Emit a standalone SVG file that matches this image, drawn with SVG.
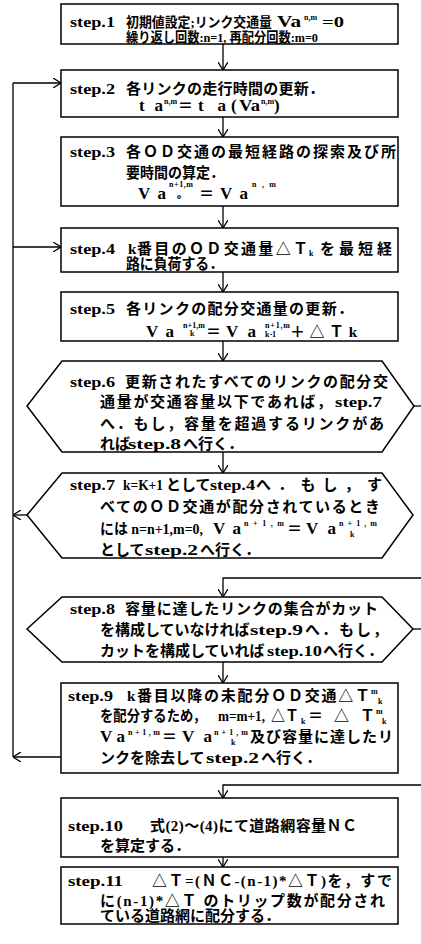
<svg xmlns="http://www.w3.org/2000/svg" width="421" height="944" viewBox="0 0 421 944">
<style>
.box{fill:#fff;stroke:#000;stroke-width:1.5}
.t{font-family:"Liberation Serif","Noto Sans CJK JP",serif;font-size:15px;font-weight:bold;fill:#000}
.sm{font-size:13.5px}
.v{font-family:"Liberation Serif",serif;font-size:17px;font-weight:bold;fill:#000}
.s{font-family:"Liberation Serif","Noto Sans CJK JP",serif;font-size:8px;font-weight:bold;fill:#000}
.c{fill:none;stroke:#000;stroke-width:1.3}
</style>
<defs>
<marker id="ah" viewBox="0 0 8 10" refX="8" refY="5" markerWidth="8" markerHeight="10" markerUnits="userSpaceOnUse" orient="auto"><path d="M0,0 L8,5 L0,10" fill="none" stroke="#000" stroke-width="1.3"/></marker>
</defs>
<rect width="421" height="944" fill="#fff"/>
<g id="connectors">
<path class="c" d="M223,44 V70" marker-end="url(#ah)"/>
<path class="c" d="M223,117 V137" marker-end="url(#ah)"/>
<path class="c" d="M223,206 V228" marker-end="url(#ah)"/>
<path class="c" d="M223,272 V292" marker-end="url(#ah)"/>
<path class="c" d="M223,341 V361" marker-end="url(#ah)"/>
<path class="c" d="M223,452 V473" marker-end="url(#ah)"/>
<path class="c" d="M421,578 H223 V597" marker-end="url(#ah)"/>
<path class="c" d="M223,662 V683" marker-end="url(#ah)"/>
<path class="c" d="M421,785 H223 V798" marker-end="url(#ah)"/>
<path class="c" d="M223,857 V867" marker-end="url(#ah)"/>
<path class="c" d="M414,406 H421"/>
<path class="c" d="M413,629 H421"/>
<path class="c" d="M13,757 V83"/>
<path class="c" d="M13,83 H61" marker-end="url(#ah)"/>
<path class="c" d="M13,247 H61" marker-end="url(#ah)"/>
<path class="c" d="M27,515 H13" marker-end="url(#ah)"/>
<path class="c" d="M61,757 H13" marker-end="url(#ah)"/>
</g>
<g id="step1">
<rect class="box" x="61" y="4" width="337" height="40"/>
<text class="t" x="70" y="27" textLength="45" lengthAdjust="spacingAndGlyphs">step.1</text>
<text class="t sm" x="126" y="27" textLength="146" lengthAdjust="spacingAndGlyphs">初期値設定;リンク交通量</text>
<text class="v" x="277" y="27" textLength="24" lengthAdjust="spacingAndGlyphs">Va</text>
<text class="s" x="304" y="20">n,m</text>
<text class="t" x="322" y="27" textLength="22" lengthAdjust="spacingAndGlyphs">=0</text>
<text class="t sm" x="126" y="42" textLength="192" lengthAdjust="spacingAndGlyphs">繰り返し回数:n=1, 再配分回数:m=0</text>
</g>
<g id="step2">
<rect class="box" x="61" y="70" width="337" height="47"/>
<text class="t" x="70" y="94" textLength="45" lengthAdjust="spacingAndGlyphs">step.2</text>
<text class="t" x="126" y="94" textLength="198" lengthAdjust="spacing">各リンクの走行時間の更新．</text>
<text class="v" x="139" y="111" textLength="24" lengthAdjust="spacing">t a</text>
<text class="s" x="164" y="104">n,m</text>
<text class="t" x="178" y="111">＝</text>
<text class="v" x="198" y="111" textLength="28" lengthAdjust="spacing">t a</text>
<text class="v" x="231" y="111">(</text>
<text class="v" x="239" y="111" textLength="21" lengthAdjust="spacingAndGlyphs">Va</text>
<text class="s" x="261" y="104">n,m</text>
<text class="v" x="274" y="111">)</text>
</g>
<g id="step3">
<rect class="box" x="61" y="137" width="337" height="69"/>
<text class="t" x="70" y="157" textLength="45" lengthAdjust="spacingAndGlyphs">step.3</text>
<text class="t" x="126" y="157" textLength="270" lengthAdjust="spacing">各ＯＤ交通の最短経路の探索及び所</text>
<text class="t" x="126" y="178" textLength="98" lengthAdjust="spacingAndGlyphs">要時間の算定．</text>
<text class="v" x="138" y="199" textLength="28" lengthAdjust="spacing">Va</text>
<text class="s" x="169" y="187" textLength="24" lengthAdjust="spacing">n+1,m</text>
<text class="s" x="177" y="199">o</text>
<text class="t" x="199" y="199">＝</text>
<text class="v" x="220" y="199" textLength="28" lengthAdjust="spacing">Va</text>
<text class="s" x="252" y="187" textLength="24" lengthAdjust="spacing">n,m</text>
</g>
<g id="step4">
<rect class="box" x="61" y="228" width="337" height="44"/>
<text class="t" x="70" y="254" textLength="45" lengthAdjust="spacingAndGlyphs">step.4</text>
<text class="t" x="128" y="254">k</text>
<text class="t" x="137" y="254" textLength="171" lengthAdjust="spacing">番目のＯＤ交通量△Ｔ</text>
<text class="s" x="309" y="256">k</text>
<text class="t" x="320" y="254" textLength="72" lengthAdjust="spacing">を最短経</text>
<text class="t" x="126" y="269" textLength="97" lengthAdjust="spacingAndGlyphs">路に負荷する．</text>
</g>
<g id="step5">
<rect class="box" x="61" y="292" width="337" height="49"/>
<text class="t" x="70" y="314" textLength="45" lengthAdjust="spacingAndGlyphs">step.5</text>
<text class="t" x="126" y="314" textLength="227" lengthAdjust="spacing">各リンクの配分交通量の更新．</text>
<text class="v" x="146" y="337" textLength="28" lengthAdjust="spacing">Va</text>
<text class="s" x="183" y="328" textLength="22" lengthAdjust="spacing">n+1,m</text>
<text class="s" x="190" y="336">k</text>
<text class="t" x="206" y="337">＝</text>
<text class="v" x="226" y="337" textLength="30" lengthAdjust="spacing">Va</text>
<text class="s" x="265" y="328" textLength="25" lengthAdjust="spacing">n+1,m</text>
<text class="s" x="265" y="337">k-1</text>
<text class="t" x="290" y="337" textLength="67" lengthAdjust="spacing">＋△Ｔk</text>
</g>
<g id="step6">
<polygon class="box" points="62,361 382,361 414,406 382,452 62,452 27,406"/>
<text class="t" x="70" y="387" textLength="45" lengthAdjust="spacingAndGlyphs">step.6</text>
<text class="t" x="125" y="387" textLength="263" lengthAdjust="spacing">更新されたすべてのリンクの配分交</text>
<text class="t" x="100" y="407" textLength="232" lengthAdjust="spacing">通量が交通容量以下であれば，</text>
<text class="t" x="335" y="407" textLength="47" lengthAdjust="spacingAndGlyphs">step.7</text>
<text class="t" x="100" y="429" textLength="284" lengthAdjust="spacing">へ．もし，容量を超過するリンクがあ</text>
<text class="t" x="100" y="449">れば</text>
<text class="t" x="128" y="449" textLength="53" lengthAdjust="spacingAndGlyphs">step.8</text>
<text class="t" x="183" y="449">へ行く．</text>
</g>
<g id="step7">
<polygon class="box" points="62,473 382,473 413,515 382,558 62,558 27,515"/>
<text class="t" x="70" y="490" textLength="45" lengthAdjust="spacingAndGlyphs">step.7</text>
<text class="t" x="123" y="490" textLength="40" lengthAdjust="spacingAndGlyphs">k=K+1</text>
<text class="t" x="166" y="490">として</text>
<text class="t" x="210" y="490" textLength="45" lengthAdjust="spacingAndGlyphs">step.4</text>
<text class="t" x="256" y="490" textLength="126" lengthAdjust="spacing">へ．もし，す</text>
<text class="t" x="100" y="512" textLength="280" lengthAdjust="spacing">べてのＯＤ交通が配分されているとき</text>
<text class="t" x="100" y="534" textLength="103" lengthAdjust="spacingAndGlyphs">には n=n+1,m=0,</text>
<text class="v" x="213" y="534" textLength="28" lengthAdjust="spacing">Va</text>
<text class="s" x="244" y="526" textLength="40" lengthAdjust="spacing">n+1,m</text>
<text class="t" x="287" y="534">＝</text>
<text class="v" x="306" y="534" textLength="30" lengthAdjust="spacing">Va</text>
<text class="s" x="339" y="526" textLength="38" lengthAdjust="spacing">n+1,m</text>
<text class="s" x="350" y="537">k</text>
<text class="t" x="100" y="555">として</text>
<text class="t" x="145" y="555" textLength="53" lengthAdjust="spacingAndGlyphs">step.2</text>
<text class="t" x="200" y="555">へ行く．</text>
</g>
<g id="step8">
<polygon class="box" points="62,597 382,597 413,629 382,662 62,662 27,629"/>
<text class="t" x="70" y="614" textLength="45" lengthAdjust="spacingAndGlyphs">step.8</text>
<text class="t" x="125" y="614" textLength="253" lengthAdjust="spacing">容量に達したリンクの集合がカット</text>
<text class="t" x="100" y="635">を構成していなければ</text>
<text class="t" x="250" y="635" textLength="53" lengthAdjust="spacingAndGlyphs">step.9</text>
<text class="t" x="305" y="635" textLength="83" lengthAdjust="spacing">へ．もし，</text>
<text class="t" x="100" y="656">カットを構成していれば</text>
<text class="t" x="267" y="656" textLength="55" lengthAdjust="spacingAndGlyphs">step.10</text>
<text class="t" x="323" y="656">へ行く．</text>
</g>
<g id="step9">
<rect class="box" x="61" y="683" width="337" height="90"/>
<text class="t" x="68" y="701" textLength="45" lengthAdjust="spacingAndGlyphs">step.9</text>
<text class="t" x="127" y="701">k</text>
<text class="t" x="137" y="701" textLength="233" lengthAdjust="spacing">番目以降の未配分ＯＤ交通△Ｔ</text>
<text class="s" x="371" y="694">m</text>
<text class="s" x="378" y="704">k</text>
<text class="t" x="100" y="721" textLength="106" lengthAdjust="spacingAndGlyphs">を配分するため，</text>
<text class="t" x="218" y="721" textLength="47" lengthAdjust="spacingAndGlyphs">m=m+1,</text>
<text class="t" x="271" y="721" textLength="28" lengthAdjust="spacingAndGlyphs">△Ｔ</text>
<text class="s" x="301" y="724">k</text>
<text class="t" x="308" y="721" textLength="67" lengthAdjust="spacing">＝△Ｔ</text>
<text class="s" x="376" y="714">m</text>
<text class="s" x="382" y="724">k</text>
<text class="v" x="100" y="742" textLength="25" lengthAdjust="spacing">Va</text>
<text class="s" x="128" y="735" textLength="32" lengthAdjust="spacing">n+1,m</text>
<text class="t" x="162" y="742">＝</text>
<text class="v" x="182" y="742" textLength="30" lengthAdjust="spacing">Va</text>
<text class="s" x="214" y="735" textLength="34" lengthAdjust="spacing">n+1,m</text>
<text class="s" x="231" y="745">k</text>
<text class="t" x="250" y="742" textLength="143" lengthAdjust="spacing">及び容量に達したリ</text>
<text class="t" x="100" y="763">ンクを除去して</text>
<text class="t" x="206" y="763" textLength="53" lengthAdjust="spacingAndGlyphs">step.2</text>
<text class="t" x="261" y="763">へ行く．</text>
</g>
<g id="step10">
<rect class="box" x="61" y="798" width="337" height="59"/>
<text class="t" x="68" y="831" textLength="55" lengthAdjust="spacingAndGlyphs">step.10</text>
<text class="t" x="150" y="831" textLength="207" lengthAdjust="spacing">式(2)～(4)にて道路網容量ＮＣ</text>
<text class="t" x="100" y="851">を算定する．</text>
</g>
<g id="step11">
<rect class="box" x="61" y="867" width="337" height="57"/>
<text class="t" x="68" y="886" textLength="55" lengthAdjust="spacingAndGlyphs">step.11</text>
<text class="t" x="152" y="886" textLength="240" lengthAdjust="spacing">△Ｔ=(ＮＣ-(n-1)*△Ｔ)を，すで</text>
<text class="t" x="100" y="906" textLength="285" lengthAdjust="spacing">に(n-1)*△Ｔ のトリップ数が配分され</text>
<text class="t" x="100" y="921">ている道路網に配分する．</text>
</g>
</svg>
